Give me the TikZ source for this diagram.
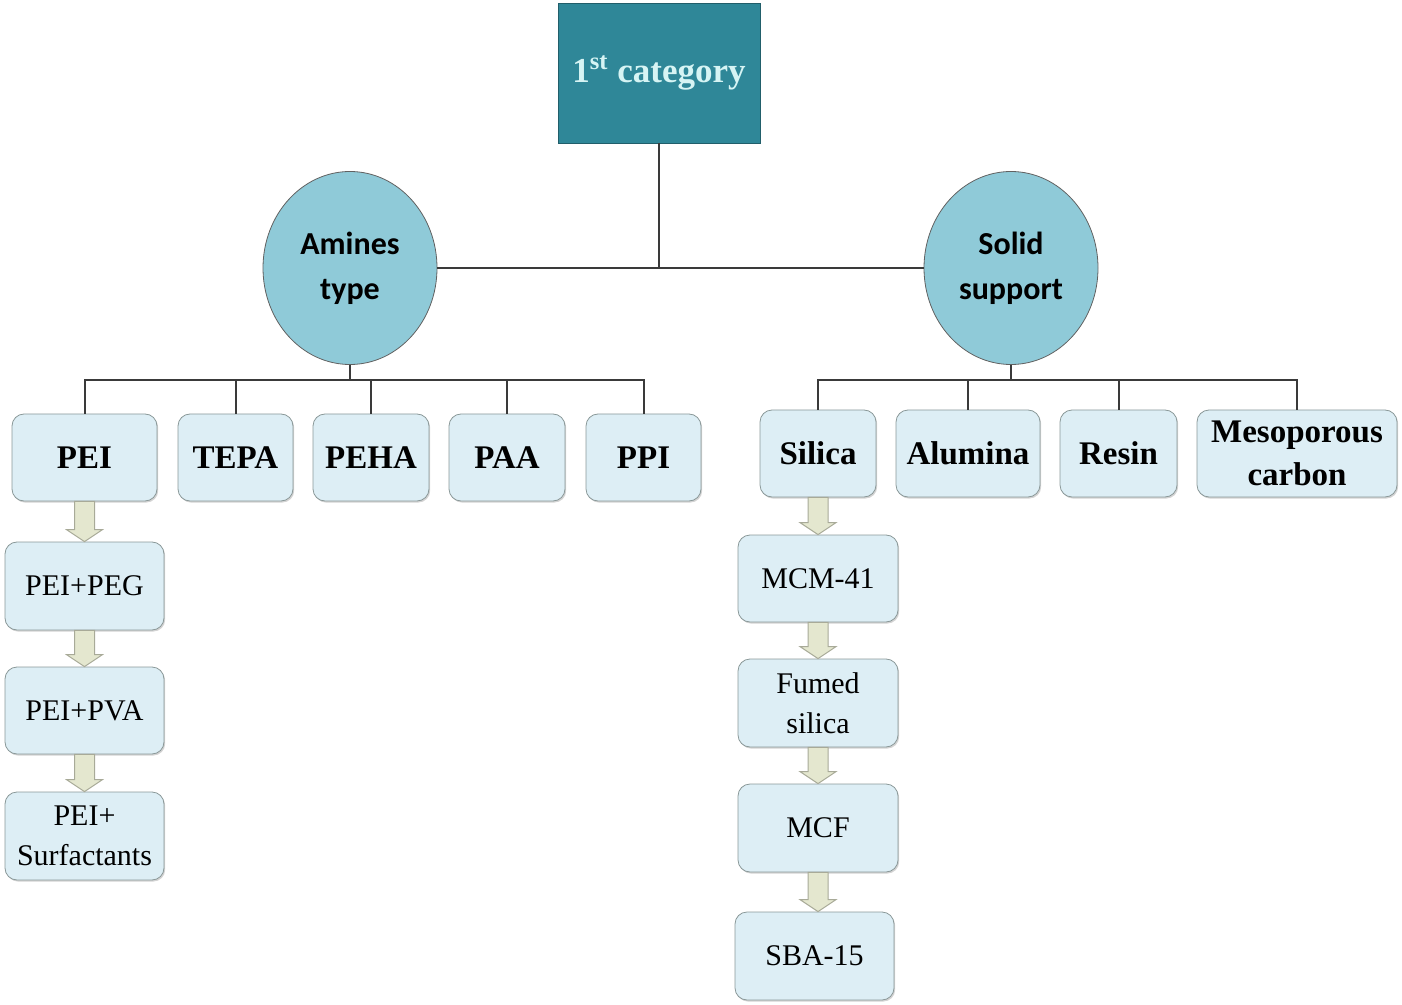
\documentclass[tikz,border=0pt]{standalone}
\usepackage{fontspec}
\setmainfont{Liberation Serif}
\newfontfamily\calib{Carlito}
\usetikzlibrary{calc,shapes.geometric,shadows}
\definecolor{topfill}{HTML}{2F8798}
\definecolor{toptext}{HTML}{D6F4F4}
\definecolor{circfill}{HTML}{8FCAD8}
\definecolor{boxfill}{HTML}{DDEEF5}
\definecolor{boxline}{HTML}{8A9898}
\definecolor{arrfill}{HTML}{E4E7CF}
\definecolor{arrline}{HTML}{A8AA98}
\definecolor{linecol}{HTML}{3A3A3A}
\tikzset{
  topbox/.style={draw=topfill!70!black, fill=topfill, text=toptext, minimum width=101pt, minimum height=70pt, inner sep=0pt, font=\fontsize{17.5}{20}\selectfont\bfseries},
  circ/.style={ellipse, draw=linecol!80, fill=circfill, minimum width=87pt, minimum height=96.5pt, inner sep=0pt, align=center, font=\calib\fontsize{16}{22.5}\selectfont\bfseries},
  catbox/.style={draw=boxline, fill=boxfill, rounded corners=6pt, inner sep=0pt, align=center, minimum height=43.5pt, drop shadow={shadow xshift=0.6pt, shadow yshift=-0.8pt, opacity=0.35}, font=\fontsize{16.5}{21.5}\selectfont\bfseries},
  subbox/.style={draw=boxline, fill=boxfill, rounded corners=6pt, inner sep=0pt, align=center, minimum width=80pt, minimum height=43.5pt, drop shadow={shadow xshift=0.6pt, shadow yshift=-0.8pt, opacity=0.35}, font=\fontsize{15}{20}\selectfont},
  conn/.style={draw=linecol, line width=1pt},
  barrowstyle/.style={draw=arrline, fill=arrfill, line width=0.5pt, line join=miter}
}
\newcommand{\blockarr}[2]{%
  \path[barrowstyle] let \p1=(#1.south), \p2=(#2.north) in
    (\x1-5pt,\y1) -- (\x1+5pt,\y1) -- (\x1+5pt,\y2+6pt) -- (\x1+9pt,\y2+6pt)
    -- (\x1,\y2) -- (\x1-9pt,\y2+6pt) -- (\x1-5pt,\y2+6pt) -- cycle;}
\begin{document}
\begin{tikzpicture}[x=0.5pt,y=-0.5pt]
\useasboundingbox (0,0) rectangle (1402,1005);
% top
\node[topbox] (top) at (659,73) {1\textsuperscript{st} category};
% circles
\node[circ] (amines) at (350,268) {Amines\\type};
\node[circ] (solid) at (1011,268) {Solid\\support};
% left category boxes
\node[catbox, minimum width=72.5pt] (pei) at (84.5,457.5) {PEI};
\node[catbox, minimum width=57.5pt] (tepa) at (235.5,457.5) {TEPA};
\node[catbox, minimum width=58pt] (peha) at (371,457.5) {PEHA};
\node[catbox, minimum width=58pt] (paa) at (507,457.5) {PAA};
\node[catbox, minimum width=57.5pt] (ppi) at (643.5,457.5) {PPI};
% right category boxes
\node[catbox, minimum width=58pt] (silica) at (818,453.5) {Silica};
\node[catbox, minimum width=72pt] (alumina) at (968,453.5) {Alumina};
\node[catbox, minimum width=58.5pt] (resin) at (1118.5,453.5) {Resin};
\node[catbox, minimum width=100pt] (meso) at (1297,453.5) {Mesoporous\\carbon};
% left column
\node[subbox, minimum width=79.5pt, minimum height=44pt] (peg) at (84.5,586) {PEI+PEG};
\node[subbox, minimum width=79.5pt] (pva) at (84.5,710.5) {PEI+PVA};
\node[subbox, minimum width=79.5pt, minimum height=44pt] (surf) at (84.5,836) {PEI+\\Surfactants};
% right column
\node[subbox] (mcm) at (818,578.5) {MCM-41};
\node[subbox, minimum height=44pt] (fumed) at (818,703) {Fumed\\silica};
\node[subbox, minimum height=44pt] (mcf) at (818,828) {MCF};
\node[subbox, minimum width=79.5pt, minimum height=44pt] (sba) at (814.5,956) {SBA-15};
% connectors
\coordinate (lb) at (350,380);
\coordinate (rb) at (1011,380);
\draw[conn] (top.south) -- (top.south |- amines.east);
\draw[conn] (amines.east) -- (solid.west);
\draw[conn] (amines.south) -- (lb);
\draw[conn] (pei.north) -- (pei.north |- lb) -- (ppi.north |- lb) -- (ppi.north);
\foreach \n in {tepa,peha,paa} \draw[conn] (\n.north) -- (\n.north |- lb);
\draw[conn] (solid.south) -- (rb);
\draw[conn] (silica.north) -- (silica.north |- rb) -- (meso.north |- rb) -- (meso.north);
\foreach \n in {alumina,resin} \draw[conn] (\n.north) -- (\n.north |- rb);
% block arrows
\blockarr{pei}{peg}
\blockarr{peg}{pva}
\blockarr{pva}{surf}
\blockarr{silica}{mcm}
\blockarr{mcm}{fumed}
\blockarr{fumed}{mcf}
\blockarr{mcf}{sba}
\end{tikzpicture}
\end{document}
